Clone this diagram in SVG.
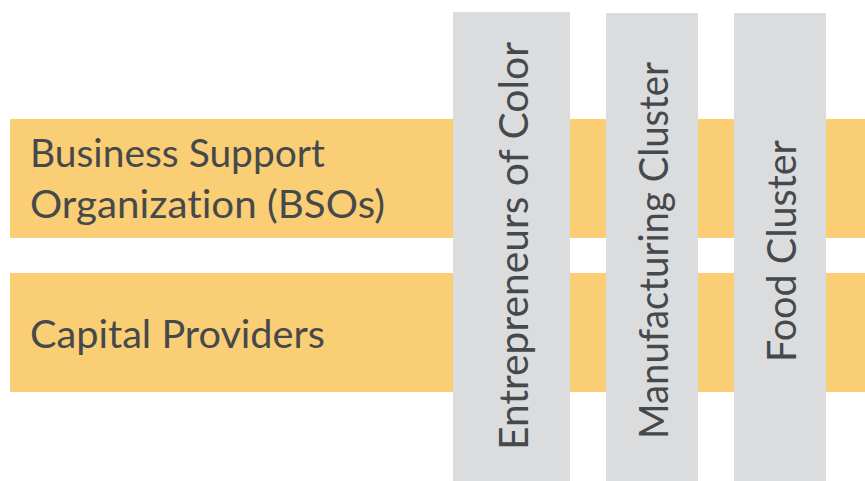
<svg xmlns="http://www.w3.org/2000/svg" width="865" height="481" viewBox="0 0 865 481">
<style>
.row{fill:#FACE75}
.col{fill:#DBDCDE}
.t{font-family:Lato,"Open Sans",sans-serif;fill:#46494B;font-variant-ligatures:none;font-feature-settings:"liga" 0}
.h{font-size:38px}
.v{font-size:41px}
</style>
<rect width="865" height="481" fill="#FFFFFF"/>
<g id="row-bso">
<rect class="row" x="10" y="119" width="855" height="119"/>
<text class="t h" x="30" y="167" textLength="295" lengthAdjust="spacingAndGlyphs">Business Support</text>
<text class="t h" x="30" y="218" textLength="355" lengthAdjust="spacingAndGlyphs">Organization (BSOs)</text>
</g>
<g id="row-capital">
<rect class="row" x="10" y="273" width="855" height="119"/>
<text class="t h" x="30" y="348" textLength="295" lengthAdjust="spacingAndGlyphs">Capital Providers</text>
</g>
<g id="col-eoc">
<rect class="col" x="453" y="12" width="117" height="469"/>
<text class="t v" transform="translate(528,450) rotate(-90)" textLength="408" lengthAdjust="spacingAndGlyphs">Entrepreneurs of Color</text>
</g>
<g id="col-mfg">
<rect class="col" x="606" y="13" width="92" height="468"/>
<text class="t v" transform="translate(668,439) rotate(-90)" textLength="377" lengthAdjust="spacingAndGlyphs">Manufacturing Cluster</text>
</g>
<g id="col-food">
<rect class="col" x="734" y="13" width="92" height="468"/>
<text class="t v" transform="translate(796,362) rotate(-90)" textLength="222" lengthAdjust="spacingAndGlyphs">Food Cluster</text>
</g>
<g id="connectors"/>
</svg>
